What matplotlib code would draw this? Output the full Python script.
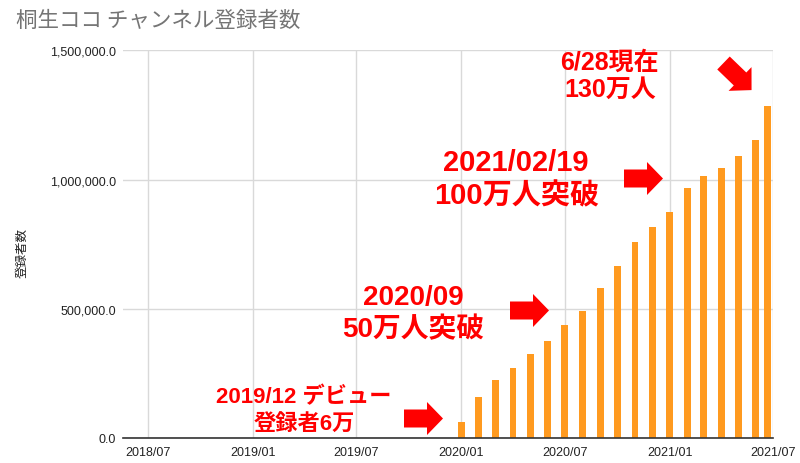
import matplotlib
matplotlib.use("Agg")
import matplotlib.pyplot as plt
from matplotlib.patches import Polygon
import numpy as np
import datetime as dt

plt.rcParams['font.family'] = ['Liberation Sans', 'Noto Sans CJK JP', 'DejaVu Sans']

# ---- data ----
dates = ['2020-01-01', '2020-02-01', '2020-03-01', '2020-04-01', '2020-05-01',
         '2020-06-01', '2020-07-01', '2020-08-01', '2020-09-01', '2020-10-01',
         '2020-11-01', '2020-12-01', '2021-01-01', '2021-02-01', '2021-03-01',
         '2021-04-01', '2021-05-01', '2021-06-01', '2021-06-21']
subscribers = [60000, 159000, 225000, 271000, 325000,
               375000, 438000, 491000, 579000, 666000,
               760000, 816000, 873000, 966000, 1014000,
               1043000, 1093000, 1155000, 1285000]
x_tick_labels = ['2018/07', '2019/01', '2019/07', '2020/01', '2020/07', '2021/01', '2021/07']
y_ticks = [0, 500000, 1000000, 1500000]
title = '桐生ココ チャンネル登録者数'
y_label = '登録者数'

W, H = 800, 464
fig = plt.figure(figsize=(W / 100, H / 100), dpi=100)
fig.patch.set_facecolor('white')

def fx(px):
    return px / W

def fy(py):
    return 1 - py / H

ax = fig.add_axes([fx(123), fy(438.8), fx(773) - fx(123), fy(51.4) - fy(438.8)])

xd = [dt.datetime.strptime(d, '%Y-%m-%d') for d in dates]
ax.bar(xd, subscribers, width=12, color='#FF9A1F', zorder=3)

tick_dates = [dt.datetime.strptime(t, '%Y/%m') for t in x_tick_labels]
ax.set_xticks(tick_dates)
ax.set_xticklabels(x_tick_labels)
ax.set_xlim(dt.datetime(2018, 5, 18), dt.datetime(2021, 7, 1))
ax.set_ylim(0, 1500000)
ax.set_yticks(y_ticks)
ax.set_yticklabels([f'{v:,.1f}' for v in y_ticks])

ax.grid(True, color='#d9d9d9', linewidth=1, zorder=0)
for s in ['top', 'right', 'left']:
    ax.spines[s].set_visible(False)
ax.spines['bottom'].set_color('#333333')
ax.spines['bottom'].set_linewidth(1.2)
ax.spines['bottom'].set_zorder(4)
ax.tick_params(axis='both', length=0, labelsize=9, colors='#222222')
ax.tick_params(axis='y', pad=5)
ax.tick_params(axis='x', pad=6)

fig.text(fx(16), fy(21), title, fontsize=15.5, color='#757575',
         family=['Noto Sans CJK JP'], va='center', ha='left')
fig.text(fx(22), fy(253), y_label, fontsize=9, color='#222222', rotation=90,
         family=['Noto Sans CJK JP'], va='center', ha='center')

red = '#FF0000'
fam = ['Liberation Sans', 'Noto Sans CJK JP']

def label(cx, cy, s, size):
    fig.text(fx(cx), fy(cy), s, fontsize=size, color=red, fontweight='bold',
             family=fam, ha='center', va='center')

label(304, 398, '2019/12 デビュー', 16)
label(304, 425, '登録者6万', 16)
label(413, 298, '2020/09', 20)
label(413, 330, '50万人突破', 20)
label(516, 163, '2021/02/19', 21)
label(517, 196, '100万人突破', 21)
label(609, 63, '6/28現在', 18)
label(610, 90, '130万人', 18)

def block_arrow(tx, ty, angle_deg, length=39, head_len=16, shaft=9, head=16.5):
    # tail centre (tx, ty) in pixels (y down); angle measured clockwise (pixel frame)
    pts = np.array([[0, -shaft], [length - head_len, -shaft], [length - head_len, -head],
                    [length, 0], [length - head_len, head], [length - head_len, shaft],
                    [0, shaft]], dtype=float)
    a = np.deg2rad(angle_deg)
    R = np.array([[np.cos(a), -np.sin(a)], [np.sin(a), np.cos(a)]])
    p = pts @ R.T + np.array([tx, ty])
    figpts = np.column_stack([p[:, 0] / W, 1 - p[:, 1] / H])
    fig.patches.append(Polygon(figpts, closed=True, transform=fig.transFigure,
                               facecolor=red, edgecolor='none', zorder=10))

block_arrow(404, 419.5, 0)
block_arrow(510, 311.5, 0)
block_arrow(624, 179.5, 0)
block_arrow(723.5, 64, 44)

fig.savefig('out.png', dpi=100)
